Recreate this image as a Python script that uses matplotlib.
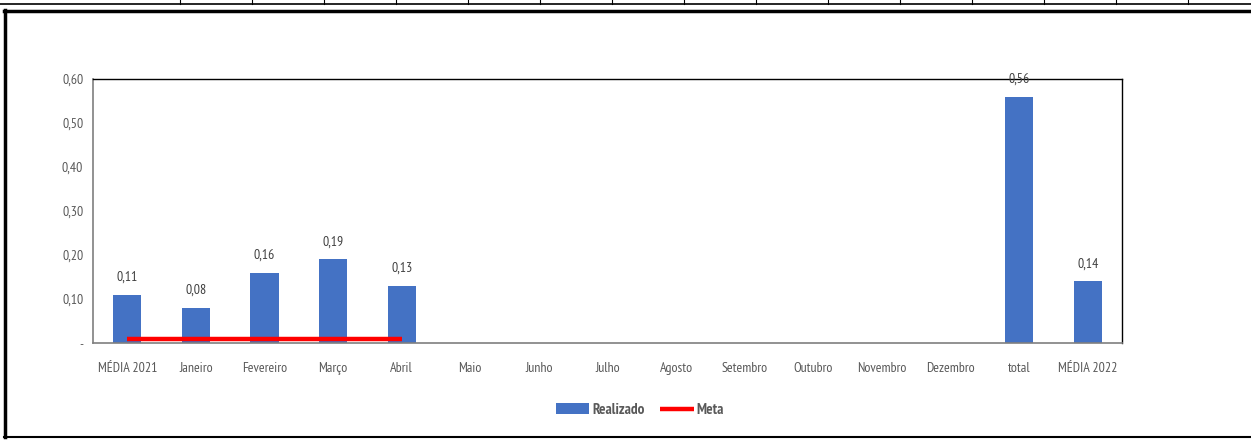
import matplotlib
matplotlib.use("Agg")
import matplotlib.pyplot as plt
from matplotlib.lines import Line2D
import numpy as np

categories = ["MÉDIA 2021", "Janeiro", "Fevereiro", "Março", "Abril", "Maio", "Junho",
              "Julho", "Agosto", "Setembro", "Outubro", "Novembro", "Dezembro", "total", "MÉDIA 2022"]
realizado = [0.11, 0.08, 0.16, 0.19, 0.13, 0, 0, 0, 0, 0, 0, 0, 0, 0.56, 0.14]
meta = [0.01, 0.01, 0.01, 0.01, 0.01] + [np.nan] * 10
yticks = [0, 0.1, 0.2, 0.3, 0.4, 0.5, 0.6]
ytick_labels = ["-", "0,10", "0,20", "0,30", "0,40", "0,50", "0,60"]

plt.rcParams['font.family'] = ['PT Sans Narrow', 'DejaVu Sans']

W, H = 1251, 441
fig = plt.figure(figsize=(W / 100, H / 100), dpi=100)

def fx(px):
    return px / W

def fy(py):
    return 1 - py / H

# decorative frame from the spreadsheet
fig.add_artist(Line2D([0, 1], [fy(3.5), fy(3.5)], color="black", lw=1.2))
for xp in range(180, 1251, 72):
    fig.add_artist(Line2D([fx(xp), fx(xp)], [fy(0), fy(3.5)], color="black", lw=0.8))
fig.add_artist(Line2D([fx(4), 1.01], [fy(10.5), fy(10.5)], color="black", lw=2.5))
fig.add_artist(Line2D([fx(4.5), fx(4.5)], [fy(10), fy(437)], color="black", lw=2.5))
fig.add_artist(Line2D([fx(4), 1.01], [fy(437), fy(437)], color="black", lw=1.5))

ax = fig.add_axes([fx(93), fy(343), fx(1122) - fx(93), (343 - 79) / H])
x = np.arange(len(categories))
bars = ax.bar(x, realizado, width=0.41, color="#4472C4", label="Realizado", zorder=2)
line, = ax.plot(x, meta, color="#FF0000", lw=3.2, label="Meta", zorder=3, solid_capstyle="butt")

for xi, v in zip(x, realizado):
    if v > 0:
        ax.text(xi, v + 0.025, f"{v:.2f}".replace(".", ","), ha="center", va="bottom",
                fontsize=10, color="#404040")

ax.set_xlim(-0.5, len(categories) - 0.5)
ax.set_ylim(0, 0.6)
ax.set_yticks(yticks)
ax.set_yticklabels(ytick_labels)
ax.set_xticks(x)
ax.set_xticklabels(categories)
ax.tick_params(axis="both", length=0, labelsize=10, colors="#595959")
ax.tick_params(axis="y", pad=7)
ax.tick_params(axis="x", pad=14)
for s in ["top", "right"]:
    ax.spines[s].set_color("black")
    ax.spines[s].set_linewidth(1.0)
for s in ["left", "bottom"]:
    ax.spines[s].set_color("#7f7f7f")
    ax.spines[s].set_linewidth(1.2)

leg = fig.legend([bars, line], ["Realizado", "Meta"], loc="center",
                 bbox_to_anchor=(fx(640), fy(410)), ncol=2, frameon=False,
                 prop={"size": 11, "weight": "bold"}, handlelength=2.2, handletextpad=0.2,
                 columnspacing=1.0, labelcolor="#595959")

fig.savefig("out.png", dpi=100)
